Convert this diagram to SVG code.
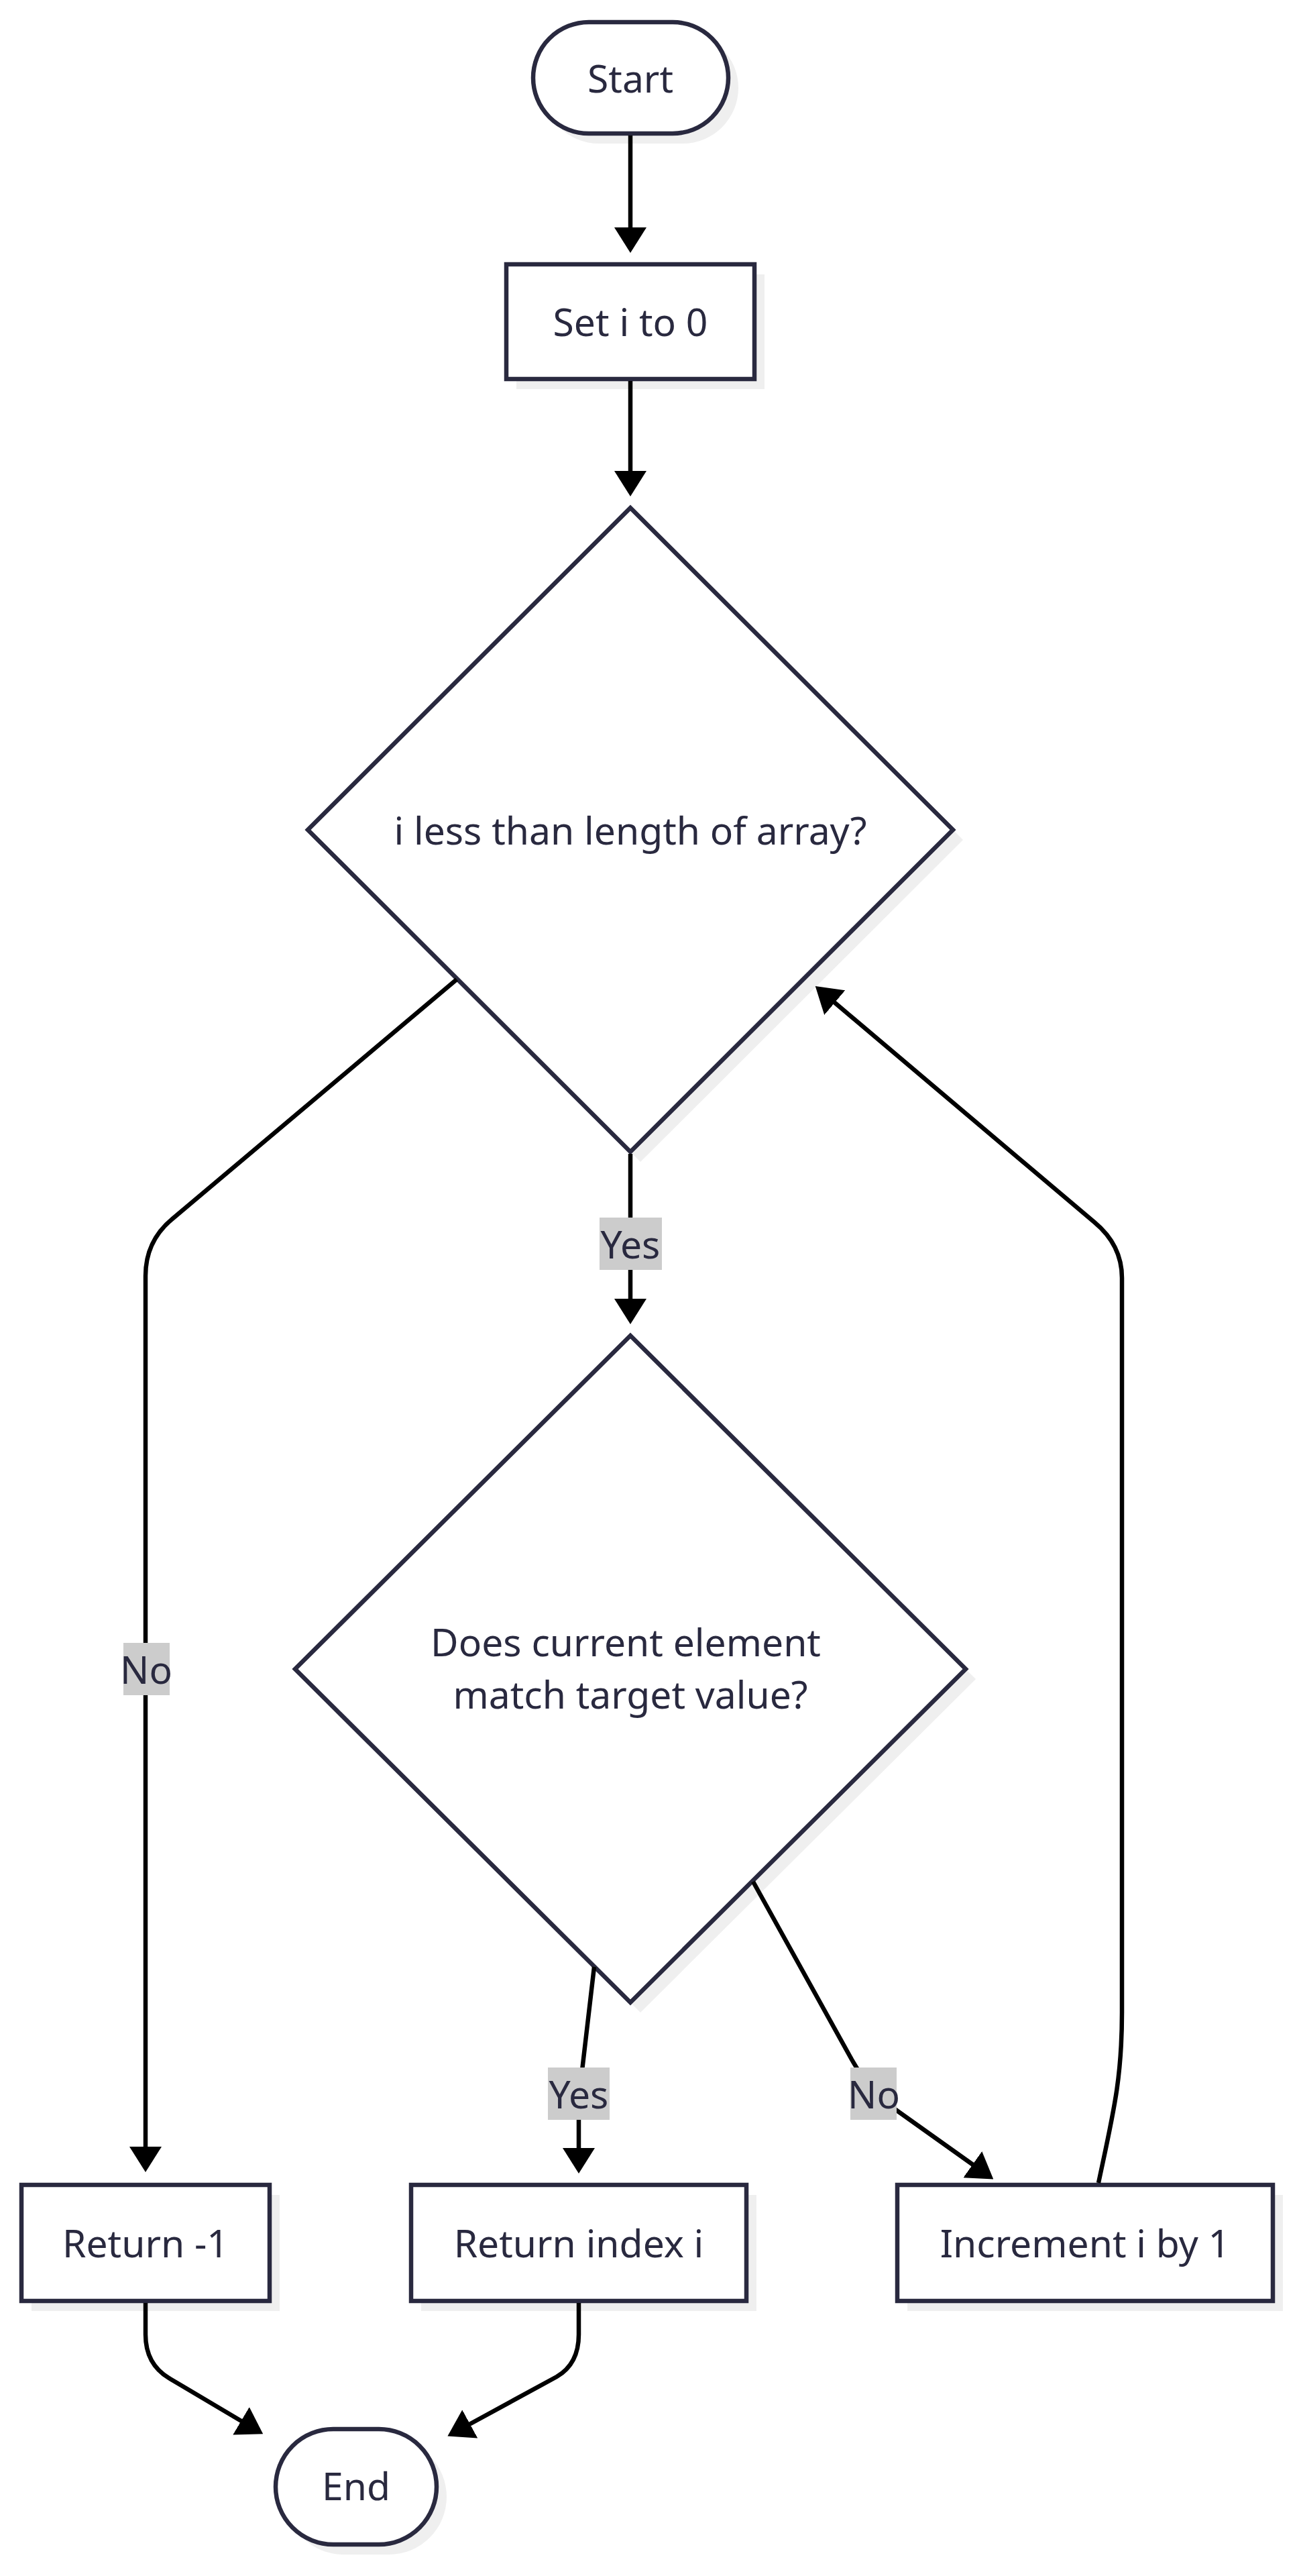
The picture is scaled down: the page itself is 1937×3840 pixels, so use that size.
<svg xmlns="http://www.w3.org/2000/svg" width="1937" height="3840" viewBox="0 0 1937 3840">
<style>
.bg{fill:#ffffff}
.shadow{fill:#efefef;stroke:none}
.node{fill:#ffffff;stroke:#29293f;stroke-width:6.5}
.dia{fill:#ffffff;stroke:#29293f;stroke-width:6.5}
.t{font-family:"Noto Sans","Open Sans","Liberation Sans",sans-serif;font-size:57px;fill:#29293f;text-anchor:middle;dominant-baseline:central}
.edge{fill:none;stroke:#000000;stroke-width:6.5}
.lbl{fill:#cccccc}
</style>
<defs>
<marker id="arrow" markerUnits="userSpaceOnUse" markerWidth="38" markerHeight="48" refX="18" refY="24" orient="auto" viewBox="0 0 38 48">
<path d="M0,0 L38,24 L0,48 z" fill="#000000"/>
</marker>
</defs>
<rect class="bg" x="0" y="0" width="1937" height="3840"/>

<g id="start">
<rect class="shadow" x="810" y="48" width="291" height="166" rx="83"/>
<rect class="node" x="795" y="33" width="291" height="166" rx="83"/>
<text class="t" x="940" y="116">Start</text>
</g>

<g id="set-i">
<rect class="shadow" x="770" y="409" width="370" height="171"/>
<rect class="node" x="755" y="394" width="370" height="171"/>
<text class="t" x="940" y="479">Set i to 0</text>
</g>

<g id="check-length">
<polygon class="shadow" points="955,772 1436,1252 955,1732 474,1252"/>
<polygon class="dia" points="940,757 1421,1237 940,1717 459,1237"/>
<text class="t" x="940" y="1237">i less than length of array?</text>
</g>

<g id="check-match">
<polygon class="shadow" points="955,2006 1455,2503 955,3000 455,2503"/>
<polygon class="dia" points="940,1991 1440,2488 940,2985 440,2488"/>
<text class="t" x="933" y="2447">Does current element</text>
<text class="t" x="940" y="2525">match target value?</text>
</g>

<g id="return-minus-one">
<rect class="shadow" x="47" y="3272" width="370" height="173"/>
<rect class="node" x="32" y="3257" width="370" height="173"/>
<text class="t" x="217" y="3343">Return -1</text>
</g>

<g id="return-index">
<rect class="shadow" x="628" y="3272" width="500" height="173"/>
<rect class="node" x="613" y="3257" width="500" height="173"/>
<text class="t" x="863" y="3343">Return index i</text>
</g>

<g id="increment">
<rect class="shadow" x="1353" y="3272" width="560" height="173"/>
<rect class="node" x="1338" y="3257" width="560" height="173"/>
<text class="t" x="1618" y="3343">Increment i by 1</text>
</g>

<g id="end">
<rect class="shadow" x="426" y="3636" width="240" height="172" rx="86"/>
<rect class="node" x="411" y="3621" width="240" height="172" rx="86"/>
<text class="t" x="531" y="3705">End</text>
</g>

<g id="connectors">
<path class="edge" d="M940,202 L940,357" marker-end="url(#arrow)"/>
<path class="edge" d="M940,568 L940,720" marker-end="url(#arrow)"/>
<path class="edge" d="M940,1720 L940,1954" marker-end="url(#arrow)"/>
<path class="edge" d="M681,1460 L257,1817 Q217,1850 217,1902 L217,3218" marker-end="url(#arrow)"/>
<path class="edge" d="M886,2932 L867,3095 Q863,3125 863,3150 L863,3220" marker-end="url(#arrow)"/>
<path class="edge" d="M1123,2805 L1270,3070 Q1297,3118 1340,3148 L1465,3237" marker-end="url(#arrow)"/>
<path class="edge" d="M1638,3254 C1660,3150 1673,3100 1673,3000 L1673,1905 Q1673,1856 1632,1822 L1231,1483" marker-end="url(#arrow)"/>
<path class="edge" d="M217,3433 L217,3480 Q217,3524 252,3545 L375,3618" marker-end="url(#arrow)"/>
<path class="edge" d="M863,3433 L863,3480 Q863,3524 830,3543 L685,3622" marker-end="url(#arrow)"/>
<g id="edge-labels">
<rect class="lbl" x="894" y="1815" width="93" height="78"/>
<text class="t" x="940" y="1854">Yes</text>
<rect class="lbl" x="184" y="2449" width="69" height="78"/>
<text class="t" x="218" y="2488">No</text>
<rect class="lbl" x="817" y="3082" width="92" height="78"/>
<text class="t" x="863" y="3121">Yes</text>
<rect class="lbl" x="1268" y="3082" width="69" height="78"/>
<text class="t" x="1303" y="3121">No</text>
</g>
</g>
</svg>
